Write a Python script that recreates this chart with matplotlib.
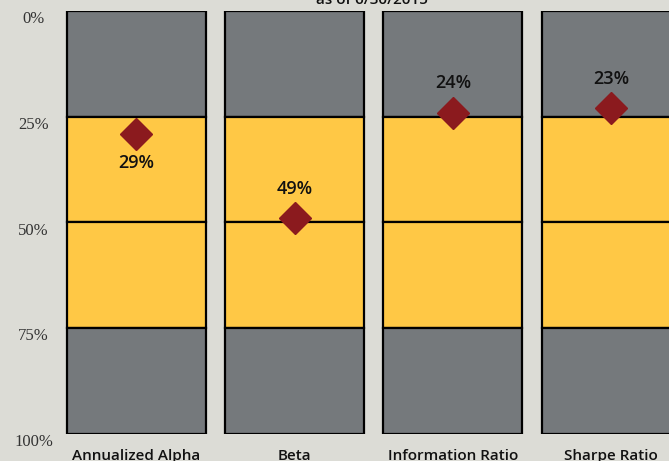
import numpy as np
import matplotlib
matplotlib.use('Agg')
import matplotlib.pyplot as plt
import matplotlib.transforms as mtransforms

# data
metrics = ['Annualized Alpha', 'Beta', 'Information Ratio', 'Sharpe Ratio']
percentiles = [29, 49, 24, 23]
label_side = ['below', 'above', 'above', 'above']
band_edges = [0, 25, 50, 75, 100]
band_colors = ['#75797c', '#ffc845', '#ffc845', '#75797c']
ytick_labels = ['0%', '25%', '50%', '75%', '100%']
title = 'as of 6/30/2015'

bg = '#dcdcd6'
W, H = 669, 461
fig = plt.figure(figsize=(W / 100, H / 100), dpi=100, facecolor=bg)
ax = fig.add_axes([57.3 / W, 27 / H, 633 / W, 423 / H])
ax.set_facecolor(bg)

x = np.arange(len(metrics))
for lo, hi, c in zip(band_edges[:-1], band_edges[1:], band_colors):
    ax.bar(x, hi - lo, bottom=lo, width=0.878, color=c,
           edgecolor='black', linewidth=1.6, zorder=2)

ax.plot(x, percentiles, linestyle='none', marker='D', markersize=16,
        color='#8b1a1e', zorder=4)
for xi, p, side in zip(x, percentiles, label_side):
    dy = -21 if side == 'below' else 21
    ax.annotate(f'{p}%', (xi, p), xytext=(0, dy), textcoords='offset points',
                ha='center', va='center', fontsize=13, family='Open Sans',
                fontweight='semibold', color='#111111', zorder=5)

ax.set_xlim(-0.5, 3.5)
ax.set_ylim(100, 0)
for s in ax.spines.values():
    s.set_visible(False)

ax.set_xticks(x)
ax.set_xticklabels(metrics, fontsize=11, family='Open Sans',
                   fontweight='semibold', color='#111111')
ax.tick_params(axis='x', length=0, pad=11)

ax.set_yticks(band_edges)
ax.set_yticklabels(ytick_labels, fontsize=12, family='Liberation Serif',
                   color='#333333')
ax.tick_params(axis='y', length=0, pad=17)
offset = mtransforms.ScaledTranslation(0, -6 / 100, fig.dpi_scale_trans)
for lab in ax.get_yticklabels():
    lab.set_horizontalalignment('center')
    lab.set_transform(lab.get_transform() + offset)

fig.text(372 / W, 1 - 4 / H, title, ha='center', va='baseline',
         fontsize=11, family='Open Sans', fontweight='semibold',
         color='#111111')

fig.savefig('out.png', dpi=100, facecolor=bg)
